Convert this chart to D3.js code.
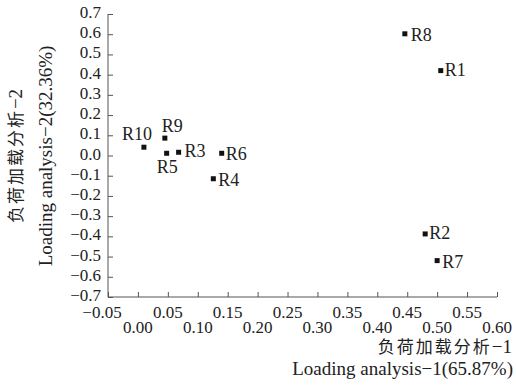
<!DOCTYPE html>
<html><head><meta charset="utf-8">
<script src="https://cdn.jsdelivr.net/npm/d3@7"></script>
<style>body{margin:0;background:#fff}svg{display:block}text{font-family:"Liberation Serif","Noto Sans CJK SC",serif;fill:#222}</style>
</head><body><svg id="c" width="516" height="387"></svg>
<script>
const names = ["R1","R2","R3","R4","R5","R6","R7","R8","R9","R10"];
const xVals = [0.506,0.480,0.068,0.126,0.048,0.140,0.500,0.446,0.045,0.010];
const yVals = [0.420,-0.388,0.016,-0.115,0.011,0.011,-0.520,0.602,0.086,0.041];
const xTicks = [-0.05,0,0.05,0.10,0.15,0.20,0.25,0.30,0.35,0.40,0.45,0.50,0.55,0.60];
const yTicks = [0.7,0.6,0.5,0.4,0.3,0.2,0.1,0,-0.1,-0.2,-0.3,-0.4,-0.5,-0.6,-0.7];
const xTitle = ["负荷加载分析","−1","Loading analysis−1(65.87%)"];
const yTitle = ["负荷加载分析","−2","Loading analysis−2(32.36%)"];
// label placement: [dx, dy, anchor]
const labelPos = {R1:[4,5,"start"],R2:[4,5,"start"],R3:[6,5,"start"],R4:[5,7,"start"],R5:[-10,20,"start"],
  R6:[4,7,"start"],R7:[5,7,"start"],R8:[6,7,"start"],R9:[-3,-6,"start"],R10:[8,-7,"end"]};

const svg = d3.select("#c");
const x = d3.scaleLinear().domain([-0.05,0.60]).range([108,497]);
const y = d3.scaleLinear().domain([-0.7,0.7]).range([297,14]);
const fmt = v => (v<0?"−":"") + Math.abs(v).toFixed(1);
const fmtx = v => (v<0?"−":"") + Math.abs(v).toFixed(2);

// y axis
const ya = svg.append("g").attr("transform","translate(108,0)")
  .call(d3.axisRight(y).tickValues(yTicks).tickSize(5).tickFormat(""));
ya.selectAll("path,line").attr("stroke","#555");
ya.select(".domain").attr("d","M0,14V297");
svg.append("g").selectAll("text").data(yTicks).join("text")
  .attr("x",101).attr("y",d=>y(d)+4).attr("text-anchor","end")
  .style("font-size","17px").text(fmt);

// x axis
const xa = svg.append("g").attr("transform","translate(0,297)")
  .call(d3.axisTop(x).tickValues(xTicks).tickSize(5).tickFormat(""));
xa.selectAll("path,line").attr("stroke","#555");
xa.select(".domain").attr("d","M108,0H497");
svg.append("g").selectAll("text").data(xTicks).join("text")
  .attr("x",(d,i)=>x(d) - (i===0?6:0)).attr("y",(d,i)=> i%2===0 ? 318 : 333).attr("text-anchor","middle")
  .style("font-size","17px").text(fmtx);

// titles
const xt = svg.append("text").attr("x",512).attr("y",353).attr("text-anchor","end").style("font-size","19px");
xt.append("tspan").style("font-size","17px").style("letter-spacing","2px").text(xTitle[0]);
xt.append("tspan").text(xTitle[1]);
svg.append("text").attr("x",513).attr("y",375).attr("text-anchor","end").style("font-size","19px").text(xTitle[2]);
const yt = svg.append("text").attr("transform","translate(22,156) rotate(-90)").attr("text-anchor","middle").style("font-size","19px");
yt.append("tspan").style("font-size","17px").style("letter-spacing","2px").text(yTitle[0]);
yt.append("tspan").text(yTitle[1]);
svg.append("text").attr("transform","translate(52,156) rotate(-90)").attr("text-anchor","middle").style("font-size","19px").text(yTitle[2]);

// points
const data = names.map((n,i)=>({n, x:xVals[i], y:yVals[i]}));
svg.append("g").selectAll("rect").data(data).join("rect")
  .attr("x",d=>x(d.x)-2.5).attr("y",d=>y(d.y)-2.5).attr("width",5).attr("height",5).attr("fill","#111");
svg.append("g").selectAll("text").data(data).join("text")
  .attr("x",d=>x(d.x)+labelPos[d.n][0]).attr("y",d=>y(d.y)+labelPos[d.n][1])
  .attr("text-anchor",d=>labelPos[d.n][2]).style("font-size","18px").text(d=>d.n);
</script></body></html>
